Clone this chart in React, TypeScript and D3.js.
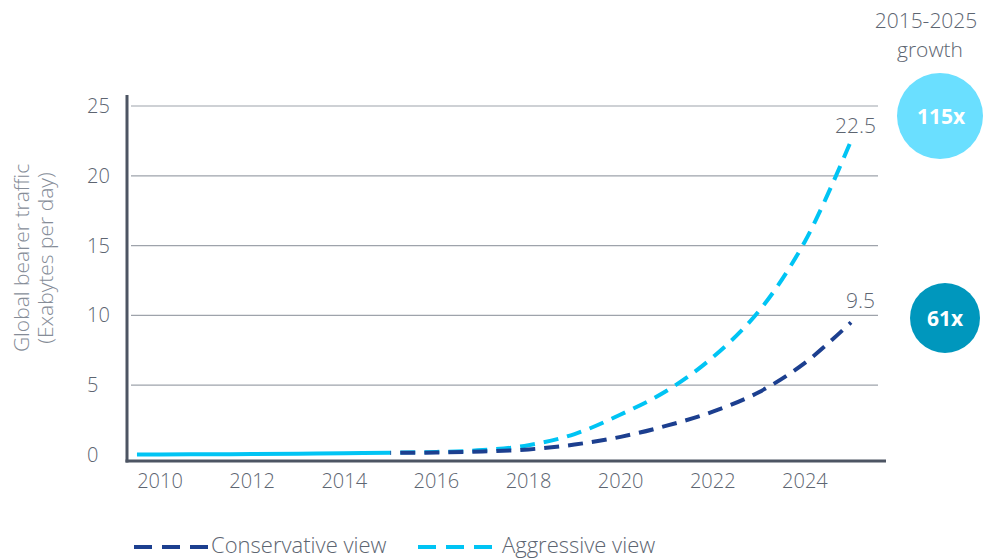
import React from "react";
import * as d3 from "d3";

const historyYears = [2009.5, 2010, 2011, 2012, 2013, 2014, 2015];
const historyValues = [0.03, 0.04, 0.05, 0.07, 0.09, 0.12, 0.16];

const forecastYears = [2015, 2016, 2017, 2018, 2019, 2020, 2021, 2022, 2023, 2024, 2025];
const conservativeValues = [0.15, 0.18, 0.25, 0.4, 0.75, 1.3, 2.1, 3.1, 4.5, 6.6, 9.5];
const aggressiveValues = [0.18, 0.22, 0.35, 0.7, 1.5, 2.9, 4.6, 7.0, 10.3, 15.3, 22.5];

const xTicks = [2010, 2012, 2014, 2016, 2018, 2020, 2022, 2024];
const yTicks = [0, 5, 10, 15, 20, 25];

const growthLabels = ["115x", "61x"];
const endLabels = ["22.5", "9.5"];

const W = 983;
const H = 558;
const FONT = "'Open Sans', sans-serif";
const TXT = "#5d6571";
const LIGHT = "#00c4f4";
const DARK = "#1c3f8f";

export default function App() {
  const x = d3.scaleLinear().domain([2010, 2025]).range([160, 851]);
  const y = d3.scaleLinear().domain([0, 25]).range([455, 106]);

  const line = d3
    .line<[number, number]>()
    .x((d) => x(d[0]))
    .y((d) => y(d[1]))
    .curve(d3.curveCatmullRom.alpha(0.5));

  const hist = line(historyYears.map((yr, i) => [yr, historyValues[i]]));
  const cons = line(forecastYears.map((yr, i) => [yr, conservativeValues[i]]));
  const aggr = line(forecastYears.map((yr, i) => [yr, aggressiveValues[i]]));

  const last = forecastYears.length - 1;
  const baseY = y(-0.43);

  return (
    <svg
      width={W}
      height={H}
      style={{ position: "absolute", left: 0, top: 0, background: "#fff" }}
      fontFamily={FONT}
      fontWeight={300}
    >
      {/* gridlines */}
      {yTicks.filter((t) => t > 0).map((t) => (
        <line key={t} x1={131} x2={878} y1={y(t)} y2={y(t)} stroke="#9ea3ab" strokeWidth={1.2} />
      ))}
      {/* y tick labels */}
      {yTicks.map((t) => (
        <text key={t} x={87} y={y(t)} dy="0.35em" fontSize={20} fill={TXT}>
          {t}
        </text>
      ))}
      {/* y axis title */}
      <text transform="translate(29,258) rotate(-90)" textAnchor="middle" fontSize={21} fill="#858c97">
        Global bearer traffic
      </text>
      <text transform="translate(53,258) rotate(-90)" textAnchor="middle" fontSize={21} fill="#858c97">
        (Exabytes per day)
      </text>

      {/* data lines */}
      <path d={hist ?? ""} fill="none" stroke={LIGHT} strokeWidth={4} />
      <path d={aggr ?? ""} fill="none" stroke={LIGHT} strokeWidth={4} strokeDasharray="15 9" strokeDashoffset={-10} />
      <path d={cons ?? ""} fill="none" stroke={DARK} strokeWidth={4} strokeDasharray="15 9" strokeDashoffset={-10} />

      {/* axes */}
      <line x1={127} x2={127} y1={95} y2={baseY + 1.5} stroke="#4d5563" strokeWidth={3} />
      <line x1={125.5} x2={886} y1={baseY} y2={baseY} stroke="#4d5563" strokeWidth={3} />

      {/* x tick labels */}
      {xTicks.map((t) => (
        <text key={t} x={x(t)} y={488} textAnchor="middle" fontSize={20} fill={TXT}>
          {t}
        </text>
      ))}

      {/* end labels */}
      <text x={876} y={y(aggressiveValues[last]) - 8} textAnchor="end" fontSize={21} fill={TXT}>
        {endLabels[0]}
      </text>
      <text x={875} y={y(conservativeValues[last]) - 14} textAnchor="end" fontSize={21} fill={TXT}>
        {endLabels[1]}
      </text>

      {/* growth header */}
      <text x={926} y={28} textAnchor="middle" fontSize={21} fill={TXT}>
        2015-2025
      </text>
      <text x={930} y={57} textAnchor="middle" fontSize={21} fill={TXT}>
        growth
      </text>
      <circle cx={940} cy={116} r={43} fill="#6adfff" />
      <text x={941} y={116} dy="0.36em" textAnchor="middle" fontSize={21} fontWeight={700} fill="#fff">
        {growthLabels[0]}
      </text>
      <circle cx={945} cy={318} r={35} fill="#0097bd" />
      <text x={945} y={318} dy="0.36em" textAnchor="middle" fontSize={21} fontWeight={700} fill="#fff">
        {growthLabels[1]}
      </text>

      {/* legend */}
      <line x1={134} x2={208} y1={547} y2={547} stroke={DARK} strokeWidth={4} strokeDasharray="18 10" />
      <text x={211} y={553} fontSize={22} fill={TXT}>
        Conservative view
      </text>
      <line x1={418} x2={493} y1={547} y2={547} stroke={LIGHT} strokeWidth={4} strokeDasharray="18 10" />
      <text x={502} y={553} fontSize={22} fill={TXT}>
        Aggressive view
      </text>
    </svg>
  );
}
